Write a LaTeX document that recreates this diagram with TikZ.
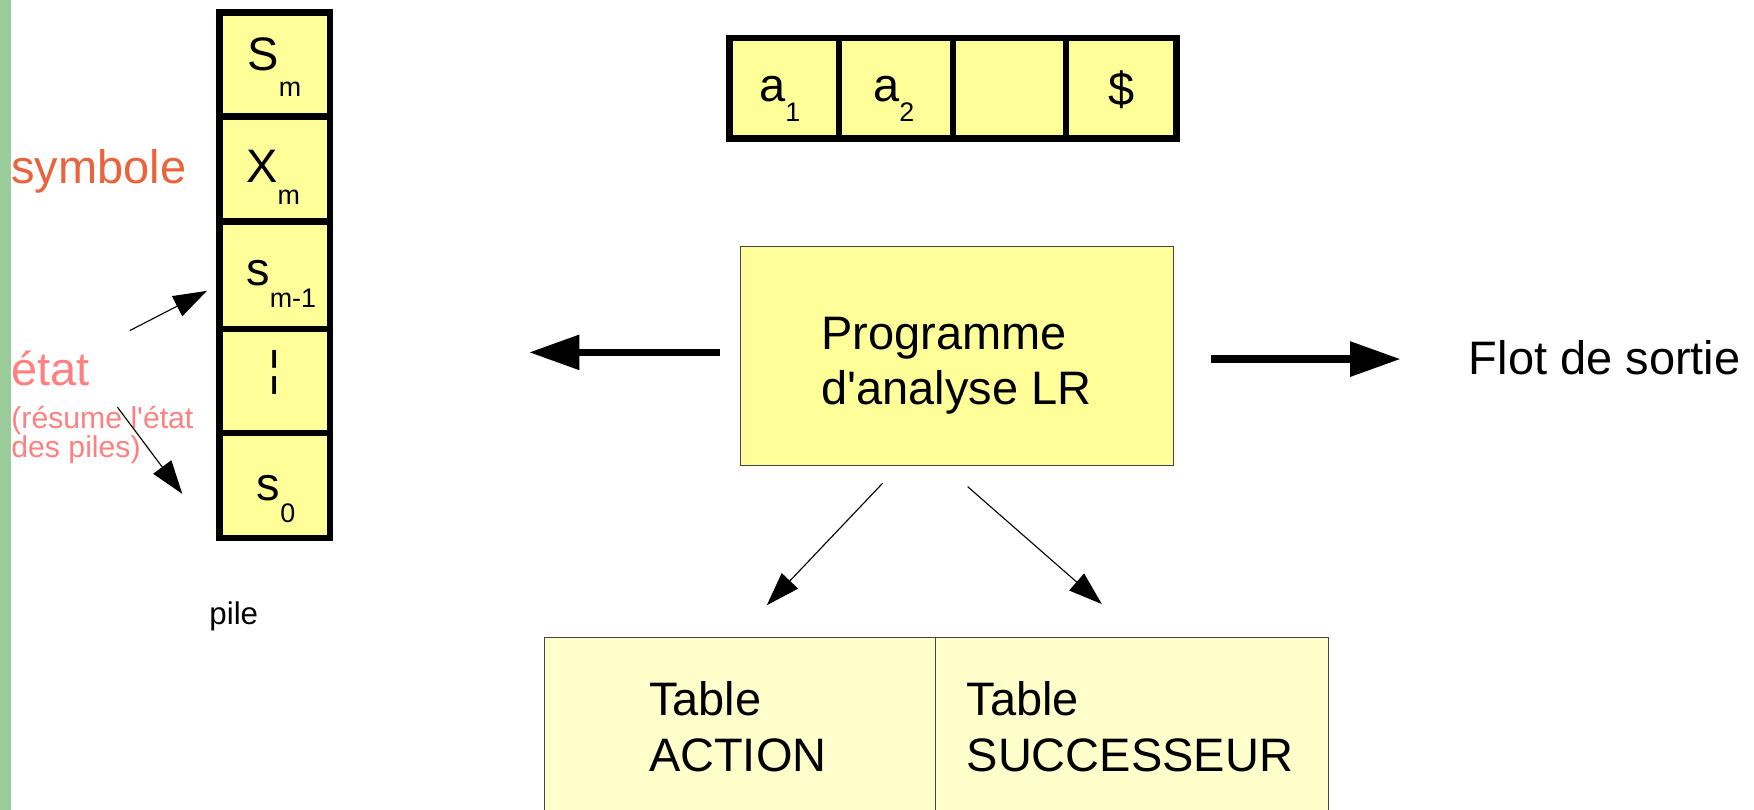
\documentclass[tikz,border=0pt]{standalone}
\usepackage{fontspec}
\setmainfont{Liberation Sans}[Ligatures=TeXOff]
\usetikzlibrary{arrows.meta}

\definecolor{cellyellow}{RGB}{255,255,153}
\definecolor{tableyellow}{RGB}{255,255,204}
\definecolor{symred}{RGB}{233,99,60}
\definecolor{statepink}{RGB}{255,128,128}
\definecolor{sidegreen}{RGB}{153,204,153}
\definecolor{thinborder}{RGB}{70,70,70}

\newcommand{\fs}[1]{\fontsize{#1}{#1}\selectfont}
% letter with a lowered, smaller index
\newcommand{\idx}[3][20pt]{{\fs{42}#2}\raisebox{-#1}{\fs{24}#3}}

\begin{document}
\begin{tikzpicture}[x=1pt,y=-1pt,
  cellbox/.style={draw=black, line width=6pt, fill=cellyellow, inner sep=0pt},
  progbox/.style={draw=thinborder, line width=1pt, fill=cellyellow, inner sep=0pt},
  tablebox/.style={draw=thinborder, line width=1pt, fill=tableyellow, inner sep=0pt},
  txt/.style={inner sep=0pt, font=\fs{42}},
  twolines/.style={inner sep=0pt, anchor=base west, align=left, font=\fontsize{42}{50}\selectfont},
  bigarrow/.style={line width=6.5pt, -{Triangle[length=45pt,width=30pt]}},
  smallarrow/.style={line width=1pt, -{Triangle[length=30pt,width=20pt]}},
]
\useasboundingbox (0,0) rectangle (1568,724);
\fill[sidegreen] (0,0) rectangle (10,724);

% stack of states and symbols
\node[cellbox, minimum width=99pt, minimum height=93pt] (c1) at (245.5,57.5) {};
\node[cellbox, minimum width=99pt, minimum height=94pt] (c2) at (245.5,151) {};
\node[cellbox, minimum width=99pt, minimum height=96pt] (c3) at (245.5,246) {};
\node[cellbox, minimum width=99pt, minimum height=93pt] (c4) at (245.5,340.5) {};
\node[cellbox, minimum width=99pt, minimum height=94pt] (c5) at (245.5,434) {};
\node[inner sep=0pt, anchor=base west] (t1) at (221,63) {\idx[23pt]{S}{m}};
\node[inner sep=0pt, anchor=base west] (t2) at (220,163) {\idx{X}{m}};
\node[inner sep=0pt, anchor=base west] (t3) at (220,255) {\idx[20pt]{s}{m-1}};
\node[txt] (t4) at (245.5,333) {¦};
\node[inner sep=0pt, anchor=base west] (t5) at (229.5,447) {\idx{s}{0}};

\node[txt, anchor=base west, text=symred] (sym) at (10,164) {symbole};
\node[txt, anchor=base west, text=statepink] (etat) at (10,345) {état};
\node[inner sep=0pt, anchor=base west, text=statepink, font=\fs{27}] (res1) at (10,383) {(résume l'état};
\node[inner sep=0pt, anchor=base west, text=statepink, font=\fs{27}] (res2) at (10,409) {des piles)};
\node[inner sep=0pt, anchor=base west, font=\fs{28}] (pile) at (187,558) {pile};

\coordinate (a1s) at (116,295.5);
\coordinate (a1e) at (185,260);
\coordinate (a2s) at (105,364);
\coordinate (a2e) at (163,441.5);
\draw[smallarrow] (a1s) -- (a1e);
\draw[smallarrow] (a2s) -- (a2e);

% input tape
\node[cellbox, minimum width=98pt, minimum height=90pt] (b1) at (701,79) {};
\node[cellbox, minimum width=102pt, minimum height=90pt] (b2) at (801,79) {};
\node[cellbox, minimum width=101pt, minimum height=90pt] (b3) at (902.5,79) {};
\node[cellbox, minimum width=99pt, minimum height=90pt] (b4) at (1002.5,79) {};
\node[inner sep=0pt, anchor=base west] (u1) at (678.5,91) {\idx[18pt]{a}{1}};
\node[inner sep=0pt, anchor=base west] (u2) at (780.5,91) {\idx[18pt]{a}{2}};
\node[txt, anchor=base] (u4) at (1002.5,94) {\$};

% parser
\node[progbox, minimum width=387pt, minimum height=196pt] (prog) at (855.5,318) {};
\node[twolines] (progtxt) at (734,362) {Programme\\d'analyse LR};
\node[txt, anchor=base west] (flot) at (1313,335) {Flot de sortie};
\coordinate (stk) at (473,315);
\coordinate (outy) at (0,321);
\draw[bigarrow] ([xshift=-18pt]prog.west |- stk) -- (stk);
\draw[bigarrow] ([xshift=33pt]prog.east |- outy) -- ([xshift=-61pt]flot.west |- outy);

% tables
\node[tablebox, minimum width=350pt, minimum height=180pt, anchor=north west] (tact) at (486,569) {};
\node[tablebox, minimum width=351pt, minimum height=180pt, anchor=north west] (tsucc) at (836,569) {};
\node[twolines] (lact) at (580,690) {Table\\ACTION};
\node[twolines] (lsucc) at (864,690) {Table\\SUCCESSEUR};

\coordinate (d1s) at (789,432);
\coordinate (d1e) at (685.5,541);
\coordinate (d2s) at (865,435);
\coordinate (d2e) at (985,540);
\draw[smallarrow] (d1s) -- (d1e);
\draw[smallarrow] (d2s) -- (d2e);
\end{tikzpicture}
\end{document}
